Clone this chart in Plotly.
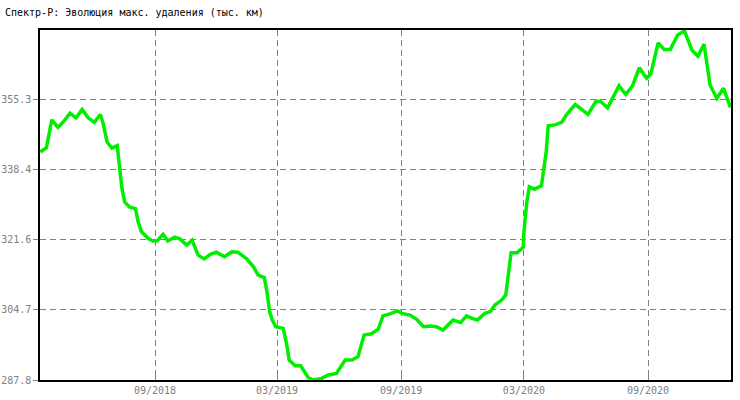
import plotly.graph_objects as go

dates = [
    "2018-03-15", "2018-03-24", "2018-04-01", "2018-04-10", "2018-04-19", "2018-04-28",
    "2018-05-07", "2018-05-16", "2018-05-25", "2018-06-03", "2018-06-12", "2018-06-16",
    "2018-06-22", "2018-06-29", "2018-07-07", "2018-07-11", "2018-07-14", "2018-07-18",
    "2018-07-25", "2018-08-03", "2018-08-07", "2018-08-12", "2018-08-22", "2018-08-29",
    "2018-09-04", "2018-09-13", "2018-09-20", "2018-09-30", "2018-10-08", "2018-10-18",
    "2018-10-26", "2018-11-04", "2018-11-13", "2018-11-22", "2018-12-01", "2018-12-13",
    "2018-12-24", "2019-01-02", "2019-01-15", "2019-01-25", "2019-02-01", "2019-02-10",
    "2019-02-14", "2019-02-18", "2019-02-22", "2019-02-27", "2019-03-10", "2019-03-15",
    "2019-03-19", "2019-03-28", "2019-04-05", "2019-04-16", "2019-04-24", "2019-05-06",
    "2019-05-16", "2019-05-28", "2019-06-10", "2019-06-20", "2019-06-29", "2019-07-08",
    "2019-07-19", "2019-07-29", "2019-08-05", "2019-08-15", "2019-08-27", "2019-09-02",
    "2019-09-14", "2019-09-24", "2019-10-04", "2019-10-14", "2019-10-23", "2019-11-02",
    "2019-11-17", "2019-11-28", "2019-12-07", "2019-12-15", "2019-12-23", "2020-01-03",
    "2020-01-11", "2020-01-18", "2020-01-28", "2020-02-03", "2020-02-07", "2020-02-11",
    "2020-02-20", "2020-02-29", "2020-03-01", "2020-03-05", "2020-03-09", "2020-03-17",
    "2020-03-27", "2020-04-03", "2020-04-06", "2020-04-16", "2020-04-26", "2020-05-03",
    "2020-05-16", "2020-05-26", "2020-06-04", "2020-06-16", "2020-06-23", "2020-07-03",
    "2020-07-12", "2020-07-20", "2020-07-30", "2020-08-09", "2020-08-19", "2020-08-30",
    "2020-09-05", "2020-09-16", "2020-09-25", "2020-10-04", "2020-10-15", "2020-10-25",
    "2020-11-05", "2020-11-14", "2020-11-23", "2020-12-02", "2020-12-12", "2020-12-22",
    "2021-01-01",
]

apogee = [
    342.6, 343.6, 350.3, 348.5, 350.0, 351.9,
    350.8, 352.8, 350.8, 349.7, 351.6, 349.5,
    345.0, 343.5, 344.1, 338.7, 333.9, 330.6,
    329.4, 329.0, 325.8, 323.4, 321.8, 321.2,
    321.2, 322.8, 321.2, 322.1, 321.7, 320.2,
    321.4, 317.8, 316.9, 318.0, 318.5, 317.4,
    318.6, 318.5, 316.9, 315.0, 313.0, 312.4,
    309.0, 304.2, 302.2, 300.6, 300.2, 296.6,
    292.6, 291.2, 291.2, 288.4, 287.8, 288.2,
    289.0, 289.4, 292.6, 292.6, 293.4, 298.6,
    298.9, 300.0, 303.2, 303.7, 304.4, 303.8,
    303.4, 302.4, 300.6, 300.8, 300.6, 299.8,
    302.2, 301.6, 303.2, 302.6, 302.2, 303.8,
    304.2, 305.8, 307.0, 308.2, 312.6, 318.4,
    318.4, 319.7, 323.4, 330.2, 334.2, 333.6,
    334.5, 342.6, 348.9, 349.1, 349.7, 351.5,
    354.0, 352.7, 351.6, 354.8, 354.7, 353.2,
    355.9, 358.5, 356.4, 358.5, 362.8, 360.3,
    361.3, 368.8, 367.2, 367.2, 370.7, 371.7,
    367.1, 365.6, 368.5, 358.7, 355.5, 357.9,
    353.3,
]

x_tick_vals = ["2018-09-01", "2019-03-01", "2019-09-01", "2020-03-01", "2020-09-01"]
x_tick_text = ["09/2018", "03/2019", "09/2019", "03/2020", "09/2020"]
y_tick_vals = [287.8, 304.675, 321.55, 338.425, 355.3]
y_tick_text = ["287.8", "304.7", "321.6", "338.4", "355.3"]

title_text = "Спектр-Р: Эволюция макс. удаления (тыс. км)"

fig = go.Figure()
fig.add_trace(go.Scatter(
    x=dates, y=apogee, mode="lines",
    line=dict(color="#00ee00", width=3.5),
    hoverinfo="x+y", showlegend=False,
))

mono = "DejaVu Sans Mono"
fig.update_layout(
    width=740, height=400,
    margin=dict(l=40, r=9, t=30, b=20, autoexpand=False),
    paper_bgcolor="white", plot_bgcolor="white",
    title=dict(text=title_text, x=5 / 740, xref="container", xanchor="left",
               y=1 - 12 / 400, yref="container", yanchor="middle",
               automargin=False,
               font=dict(family=mono, size=10, color="black")),
    font=dict(family=mono, size=10, color="#808080"),
)
fig.update_xaxes(
    type="date", range=["2018-03-14 12:00", "2021-01-02"],
    tickmode="array", tickvals=x_tick_vals, ticktext=x_tick_text,
    showgrid=True, gridcolor="#808080", gridwidth=1, griddash="6px,4px",
    showline=True, linecolor="black", linewidth=1.5, mirror=True,
    ticks="inside", ticklen=6, tickcolor="#808080",
    tickfont=dict(family=mono, size=10, color="#808080"),
    zeroline=False, automargin=False,
)
fig.update_yaxes(
    range=[287.8, 371.9],
    tickmode="array", tickvals=y_tick_vals, ticktext=y_tick_text,
    showgrid=True, gridcolor="#808080", gridwidth=1, griddash="6px,4px",
    showline=True, linecolor="black", linewidth=1.5, mirror=True,
    ticks="outside", ticklen=5, tickcolor="#808080",
    tickfont=dict(family=mono, size=10, color="#808080"),
    zeroline=False, automargin=False,
)

fig.write_html(
    "out.html",
    config={"displayModeBar": False},
    post_script="document.body.style.margin='0';document.body.style.overflow='hidden';",
)
